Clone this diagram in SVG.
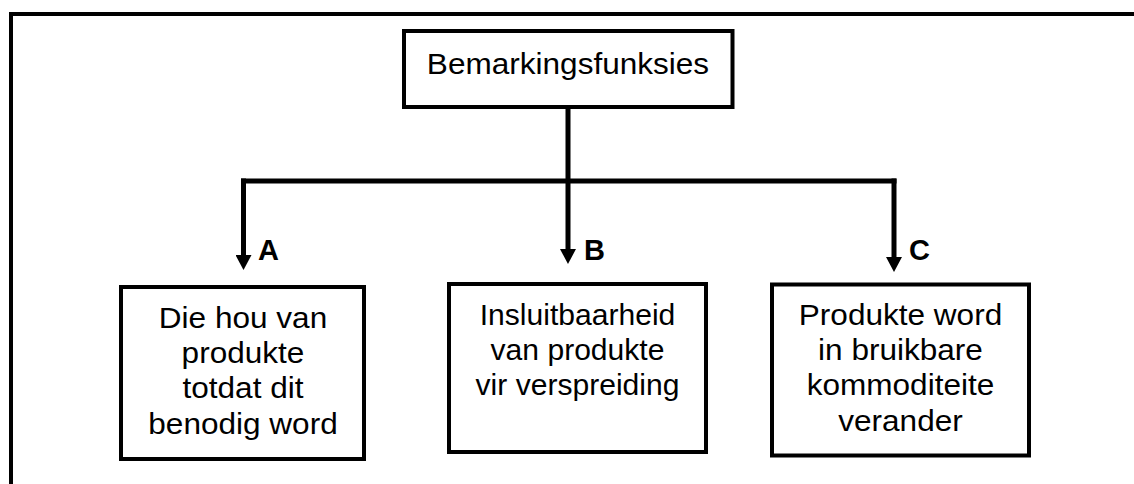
<svg xmlns="http://www.w3.org/2000/svg" width="1134" height="484" viewBox="0 0 1134 484">
  <style>
    .box { fill: #fff; stroke: #000; stroke-width: 4; }
    .t { font-family: "Liberation Sans", Arial, sans-serif; font-size: 29.5px; fill: #000; text-anchor: middle; }
    .lbl { font-family: "Liberation Sans", Arial, sans-serif; font-size: 29px; font-weight: bold; fill: #000; }
    .conn { fill: none; stroke: #000; stroke-width: 5; }
    .frame { fill: none; stroke: #000; stroke-width: 4; }
  </style>
  <defs>
    <marker id="arr" markerUnits="userSpaceOnUse" markerWidth="16" markerHeight="16" refX="0" refY="8" orient="auto" viewBox="0 0 16 16">
      <path d="M0,0 L15,8 L0,16 z" fill="#000"/>
    </marker>
  </defs>
  <rect width="1134" height="484" fill="#fff"/>
  <path class="frame" d="M11 484 V14 H1134"/>

  <g id="connectors">
    <path class="conn" d="M241 181 H896.5"/>
    <path class="conn" d="M568 107 V249" marker-end="url(#arr)"/>
    <path class="conn" d="M243.5 178.5 V255" marker-end="url(#arr)"/>
    <path class="conn" d="M894 178.5 V257" marker-end="url(#arr)"/>
    <text class="lbl" x="258" y="260">A</text>
    <text class="lbl" x="584" y="260">B</text>
    <text class="lbl" x="909" y="260">C</text>
  </g>

  <g id="root">
    <rect class="box" x="404" y="31" width="328.5" height="76"/>
    <text class="t" transform="translate(568 73.5) scale(1.07 1)">Bemarkingsfunksies</text>
  </g>

  <g id="nodeA">
    <rect class="box" x="121" y="287" width="243" height="172"/>
    <g transform="translate(243 0) scale(1.07 1)">
      <text class="t" x="0" y="328.5">Die hou van</text>
      <text class="t" x="0" y="363.5">produkte</text>
      <text class="t" x="0" y="398.5">totdat dit</text>
      <text class="t" x="0" y="434">benodig word</text>
    </g>
  </g>

  <g id="nodeB">
    <rect class="box" x="449" y="284" width="257" height="168"/>
    <g transform="translate(577.5 0) scale(1.02 1)">
      <text class="t" x="0" y="325.5">Insluitbaarheid</text>
      <text class="t" x="0" y="360.5">van produkte</text>
      <text class="t" x="0" y="395.5">vir verspreiding</text>
    </g>
  </g>

  <g id="nodeC">
    <rect class="box" x="772" y="284.5" width="257" height="171"/>
    <g transform="translate(900.5 0) scale(1.07 1)">
      <text class="t" x="0" y="325.5">Produkte word</text>
      <text class="t" x="0" y="360.5">in bruikbare</text>
      <text class="t" x="0" y="395.5">kommoditeite</text>
      <text class="t" x="0" y="431">verander</text>
    </g>
  </g>
</svg>
